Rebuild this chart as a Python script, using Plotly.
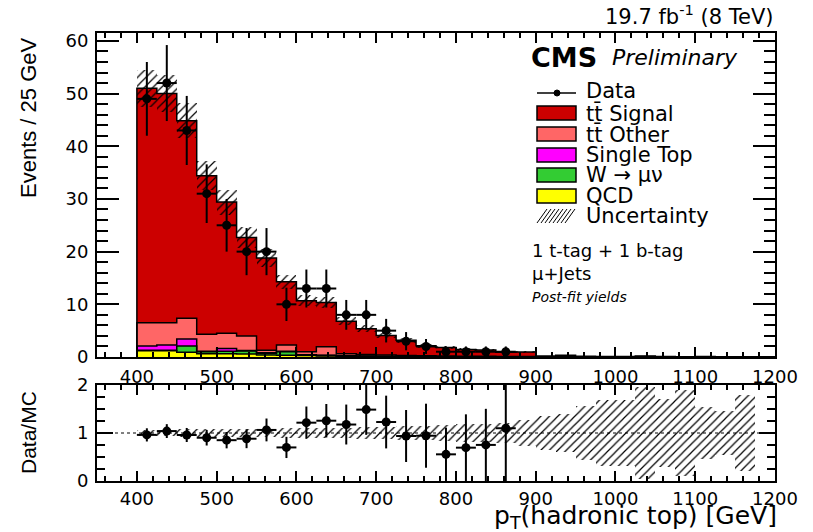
import numpy as np
import plotly.graph_objects as go

# ---------------------------------------------------------------- data
bin_edges = np.arange(400, 1201, 25)          # 25 GeV bins, 400-1200 GeV
bin_width = 25.0

data_counts = [49, 52, 43, 31, 25, 20, 20, 10, 13, 13, 8, 8, 5, 3, 2, 1, 1, 1, 1]

qcd = [1.2, 1.2, 0.9, 0.6, 0.6, 0.55, 0.4, 0.35, 0.3, 0.2, 0.1, 0.1, 0.05, 0.05, 0.03, 0.02,
       0.02, 0.01, 0.01, 0.01, 0, 0, 0, 0, 0, 0, 0, 0, 0, 0, 0, 0]
w_jets = [0.1, 0.1, 1.2, 0.4, 0.5, 0.6, 0.3, 0.65, 0.1, 0.1, 0.1, 0.05, 0.05, 0.03, 0.02, 0.02,
          0.01, 0.01, 0.01, 0.01, 0, 0, 0, 0, 0, 0.08, 0, 0, 0, 0, 0, 0]
single_top = [0.8, 1.0, 1.3, 0.1, 0.5, 0.1, 0.1, 0.1, 0.05, 0.05, 0.05, 0.03, 0.02, 0.02, 0.02, 0.01,
              0.01, 0.01, 0.01, 0.01, 0, 0, 0, 0, 0, 0, 0, 0, 0, 0, 0, 0]
tt_other = [4.4, 4.2, 3.95, 3.2, 2.9, 2.75, 0.5, 1.2, 0.55, 1.6, 0.35, 0.3, 0.25, 0.2, 0.15, 0.15,
            0.1, 0.1, 0.08, 0.07, 0.03, 0.03, 0.02, 0.02, 0.01, 0.01, 0.01, 0, 0, 0, 0, 0]
tt_signal = [44.5, 43.5, 37.5, 30.1, 24.9, 18.7, 17.5, 12.0, 9.7, 8.4, 6.2, 4.9, 3.7, 2.9, 1.9, 1.6,
             1.3, 1.2, 0.8, 0.85, 0.15, 0.3, 0.12, 0.08, 0.1, 0.04, 0.1, 0.05, 0.08, 0.06, 0.04, 0]
# relative total uncertainty on the summed prediction, per bin
mc_rel_unc = [0.07, 0.07, 0.075, 0.08, 0.08, 0.085, 0.09, 0.095, 0.10, 0.105, 0.11, 0.12, 0.13, 0.14,
              0.15, 0.16, 0.18, 0.19, 0.21, 0.27, 0.35, 0.40, 0.56, 0.68, 0.68, 0.95, 0.70, 0.90,
              0.55, 0.45, 0.80, 0.0]

# ---------------------------------------------------------------- derived
centers = bin_edges[:-1] + bin_width / 2
components = [  # bottom -> top
    ("QCD", qcd, "#FFFF00"),
    ("W", w_jets, "#33CC33"),
    ("Single Top", single_top, "#FF00FF"),
    ("tt Other", tt_other, "#FF6666"),
    ("tt Signal", tt_signal, "#CC0000"),
]
stack = np.cumsum([np.array(c[1], dtype=float) for c in components], axis=0)
mc_total = stack[-1]
rel = np.array(mc_rel_unc)

n_data = len(data_counts)
d = np.array(data_counts, dtype=float)
d_err = np.sqrt(d)
d_x = centers[:n_data]
ratio = d / mc_total[:n_data]
ratio_err = d_err / mc_total[:n_data]

# ---------------------------------------------------------------- geometry
W_PX, H_PX = 813, 532
ML, MR, MT, MB = 97, 38, 33, 51
PW, PH = W_PX - ML - MR, H_PX - MT - MB


def fx(px):
    return (px - ML) / PW


def fy(py):
    return (H_PX - MB - py) / PH


FONT = "DejaVu Sans"
FONT_V = "Liberation Sans"

fig = go.Figure()

# stacked backgrounds (filled)
for name, vals, col in components:
    fig.add_trace(go.Bar(x=centers, y=vals, width=bin_width, marker=dict(color=col, line=dict(width=0)),
                         name=name, showlegend=False, xaxis="x", yaxis="y"))

# black step outlines for each stacked level
for level in stack:
    xs = np.concatenate([[bin_edges[0]], bin_edges[:-1], [bin_edges[-1], bin_edges[-1]]])
    ys = np.concatenate([[0.0], level, [level[-1], 0.0]])
    fig.add_trace(go.Scatter(x=xs, y=ys, mode="lines", line=dict(color="black", width=1.5, shape="hv"),
                             showlegend=False, hoverinfo="skip", xaxis="x", yaxis="y"))

hatch = dict(shape="/", fgcolor="black", fgopacity=1, bgcolor="rgba(0,0,0,0)", size=6, solidity=0.2,
             fillmode="overlay")

# uncertainty band on the prediction
fig.add_trace(go.Bar(x=centers, y=2 * mc_total * rel, base=mc_total * (1 - rel), width=bin_width,
                     marker=dict(color="rgba(0,0,0,0)", pattern=hatch, line=dict(width=0)),
                     showlegend=False, xaxis="x", yaxis="y"))

# data
fig.add_trace(go.Scatter(x=d_x, y=d, mode="markers",
                         marker=dict(color="black", size=9),
                         error_y=dict(type="data", array=d_err, color="black", thickness=2, width=0),
                         error_x=dict(type="constant", value=bin_width / 2, color="black", thickness=2, width=0),
                         showlegend=False, xaxis="x", yaxis="y"))

# ratio panel: band and points
band_mask = rel > 0
fig.add_trace(go.Bar(x=centers[band_mask], y=2 * rel[band_mask], base=1 - rel[band_mask], width=bin_width,
                     marker=dict(color="rgba(0,0,0,0)", pattern=hatch, line=dict(width=0)),
                     showlegend=False, xaxis="x2", yaxis="y2"))
fig.add_trace(go.Scatter(x=d_x, y=ratio, mode="markers",
                         marker=dict(color="black", size=9),
                         error_y=dict(type="data", array=ratio_err, color="black", thickness=2, width=0),
                         error_x=dict(type="constant", value=bin_width / 2, color="black", thickness=2, width=0),
                         showlegend=False, xaxis="x2", yaxis="y2", cliponaxis=True))

axis_common = dict(showline=True, linecolor="black", linewidth=2, mirror="allticks", ticks="inside",
                   showgrid=False, zeroline=False, tickcolor="black", tickwidth=1.5,
                   tickfont=dict(family=FONT, size=18, color="black"))

fig.update_layout(
    width=W_PX, height=H_PX,
    margin=dict(l=ML, r=MR, t=MT, b=MB),
    paper_bgcolor="white", plot_bgcolor="white",
    barmode="stack", bargap=0, showlegend=False,
    xaxis=dict(domain=[0, 1], range=[350, 1200], anchor="y", dtick=100, tick0=0, ticklen=10,
               minor=dict(dtick=20, tick0=0, ticklen=5, ticks="inside", tickcolor="black"),
               ticklabelstandoff=2, **axis_common),
    yaxis=dict(domain=[fy(357), 1], range=[0, 61.5], anchor="x", dtick=10, ticklen=22,
               minor=dict(dtick=2, ticklen=11, ticks="inside", tickcolor="black"),
               ticklabelstandoff=3, **axis_common),
    xaxis2=dict(domain=[0, 1], range=[350, 1200], anchor="y2", dtick=100, tick0=0, ticklen=10,
                minor=dict(dtick=20, tick0=0, ticklen=5, ticks="inside", tickcolor="black"),
                ticklabelstandoff=0, **axis_common),
    yaxis2=dict(domain=[0, fy(385)], range=[0, 2], anchor="x2", tickvals=[0, 1, 2], ticklen=16,
                minor=dict(dtick=0.25, ticklen=8, ticks="inside", tickcolor="black"),
                ticklabelstandoff=3, **axis_common),
)

# reference line at ratio = 1
fig.add_shape(type="line", xref="x2 domain", yref="y2", x0=0, x1=1, y0=1, y1=1,
              line=dict(color="black", width=1, dash="dot"))

annotations = []


def text(px, py, s, size, family=FONT, xanchor="left", yanchor="middle", angle=0, pad=1):
    annotations.append(dict(x=fx(px), y=fy(py), xref="paper", yref="paper", text=s, showarrow=False,
                            xanchor=xanchor, yanchor=yanchor, textangle=angle, borderpad=pad,
                            font=dict(family=family, size=size, color="black")))


# titles and labels
text(775, 15, "19.7 fb<sup>-1</sup> (8 TeV)", 21, xanchor="right")
text(778, 534, "p<sub>T</sub>(hadronic top) [GeV]", 25, xanchor="right", yanchor="bottom", pad=0)
text(28, 118, "Events / 25 GeV", 22, family=FONT_V, xanchor="center", angle=-90)
text(28, 433, "Data/MC", 21, family=FONT_V, xanchor="center", angle=-90)
text(529, 57, "<b>CMS</b>", 27)
text(610, 58, "<i>Preliminary</i>", 22)

# legend
legend_rows = [
    ("Data", None, 91),
    ("tt\u0304 Signal", "#CC0000", 113),
    ("tt\u0304 Other", "#FF6666", 134),
    ("Single Top", "#FF00FF", 155),
    ("W \u2192 \u03bc\u03bd", "#33CC33", 175),
    ("QCD", "#FFFF00", 196),
    ("Uncertainty", "hatch", 216),
]
box_x0, box_x1 = 537, 576
shapes = []
for label, col, yc in legend_rows:
    text(584, yc, label, 21)
    if col is None:
        shapes.append(dict(type="line", xref="paper", yref="paper", x0=fx(box_x0), x1=fx(box_x1),
                           y0=fy(yc + 2), y1=fy(yc + 2), line=dict(color="black", width=1.5)))
        shapes.append(dict(type="circle", xref="paper", yref="paper", x0=fx(554), x1=fx(560),
                           y0=fy(yc + 5), y1=fy(yc - 1), fillcolor="black", line=dict(color="black", width=1)))
    elif col == "hatch":
        parts = []
        for k in range(8):
            xa = box_x0 + k * 4
            parts.append(f"M {fx(xa):.5f},{fy(yc + 7):.5f} L {fx(xa + 10):.5f},{fy(yc - 7):.5f}")
        shapes.append(dict(type="path", xref="paper", yref="paper", path=" ".join(parts),
                           line=dict(color="black", width=1)))
    else:
        shapes.append(dict(type="rect", xref="paper", yref="paper", x0=fx(box_x0), x1=fx(box_x1),
                           y0=fy(yc + 7), y1=fy(yc - 7), fillcolor=col, line=dict(color="black", width=1.5)))

text(530, 250, "1 t-tag + 1 b-tag", 18)
text(530, 273, "\u03bc+Jets", 18)
text(530, 297, "<i>Post-fit yields</i>", 14)

for s in shapes:
    fig.add_shape(**s)
fig.update_layout(annotations=annotations)

fig.write_html("out.html")
